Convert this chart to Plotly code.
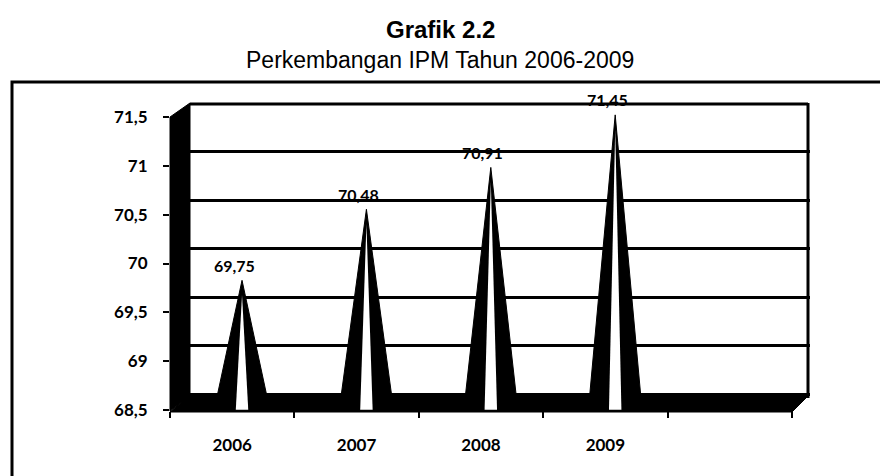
import plotly.graph_objects as go

# ---- data ----
years = ["2006", "2007", "2008", "2009"]
ipm = [69.75, 70.48, 70.91, 71.45]
y_min = 68.5
y_max = 71.5

# ---- layout geometry (pixels) ----
W, H = 880, 476
L, T, R, B = 170, 103, 70, 65
PW = W - L - R
PH = H - T - B

def px_x(p):  # pixel -> paper x
    return (p - L) / PW

def px_y(p):  # pixel -> paper y
    return 1 - (p - T) / PH

fig = go.Figure()

# anchor trace for the main (front) axes
fig.add_trace(go.Scatter(x=list(range(len(years))), y=ipm, xaxis="x", yaxis="y",
                         mode="markers", marker=dict(opacity=0), showlegend=False,
                         hoverinfo="skip"))
# anchor trace for back-wall grid axis
fig.add_trace(go.Scatter(x=[0], y=[y_min], xaxis="x2", yaxis="y2",
                         mode="markers", marker=dict(opacity=0), showlegend=False,
                         hoverinfo="skip"))

# cones (mid-depth axes)
cone_half = 0.21
for i, v in enumerate(ipm):
    fig.add_trace(go.Scatter(
        x=[i - cone_half, i, i + cone_half, i - cone_half],
        y=[y_min, v, y_min, y_min],
        xaxis="x3", yaxis="y3", mode="lines", fill="toself",
        fillcolor="black", line=dict(color="black", width=1),
        showlegend=False, hoverinfo="skip"))
    fig.add_trace(go.Scatter(
        x=[i - 0.05, i, i + 0.05, i - 0.05],
        y=[y_min - 0.08, v - 0.15, y_min - 0.08, y_min - 0.08],
        xaxis="x3", yaxis="y3", mode="lines", fill="toself",
        fillcolor="white", line=dict(color="white", width=0),
        showlegend=False, hoverinfo="skip"))

for i, v in enumerate(ipm):
    fig.add_annotation(x=i, y=v, xref="x3", yref="y3",
                       text=f"{v:.2f}".replace(".", ","), showarrow=False,
                       xshift=-8, yshift=15,
                       font=dict(family="Lato", size=16, color="black", weight="bold"))

shapes = []
# left wall
shapes.append(dict(type="path", xref="paper", yref="paper", layer="below",
                   path=f"M {px_x(170)},{px_y(117)} L {px_x(190)},{px_y(103)} L {px_x(190)},{px_y(396)} L {px_x(170)},{px_y(411)} Z",
                   fillcolor="black", line=dict(color="black", width=1)))
# floor
shapes.append(dict(type="path", xref="paper", yref="paper", layer="below",
                   path=f"M {px_x(170)},{px_y(412)} L {px_x(190)},{px_y(395)} L {px_x(809)},{px_y(395)} L {px_x(792)},{px_y(412)} Z",
                   fillcolor="black", line=dict(color="black", width=1)))
# back wall right edge and top edge
shapes.append(dict(type="line", xref="paper", yref="paper", layer="below",
                   x0=px_x(808), x1=px_x(808), y0=px_y(103), y1=px_y(398),
                   line=dict(color="black", width=3)))
shapes.append(dict(type="line", xref="paper", yref="paper", layer="below",
                   x0=px_x(190), x1=px_x(808), y0=px_y(104), y1=px_y(104),
                   line=dict(color="black", width=3)))
# outer frame
shapes.append(dict(type="rect", xref="paper", yref="paper",
                   x0=px_x(12), x1=px_x(900), y0=px_y(82), y1=px_y(500),
                   line=dict(color="black", width=3), fillcolor="rgba(0,0,0,0)"))

fig.add_annotation(text="<b>Grafik 2.2</b>", xref="paper", yref="paper",
                   x=px_x(440), y=px_y(29), xanchor="center", yanchor="middle",
                   showarrow=False,
                   font=dict(family="Liberation Sans", size=24, color="black"))
fig.add_annotation(text="Perkembangan IPM Tahun 2006-2009", xref="paper", yref="paper",
                   x=px_x(440), y=px_y(60), xanchor="center", yanchor="middle",
                   showarrow=False,
                   font=dict(family="Liberation Sans", size=23, color="black"))

tickfont = dict(family="Lato", size=17, color="black", weight="bold")

fig.update_layout(
    width=W, height=H,
    margin=dict(l=L, r=R, t=T, b=B),
    paper_bgcolor="white", plot_bgcolor="rgba(0,0,0,0)",
    separators=",.",
    shapes=shapes,
    xaxis=dict(range=[-0.5, 4.645], tickmode="array",
               tickvals=list(range(len(years))), ticktext=years,
               ticks="", showgrid=False, zeroline=False, showline=False,
               tickfont=tickfont, ticklabelstandoff=22,
               minor=dict(ticks="outside", tick0=-0.5, dtick=1, ticklen=6,
                          tickwidth=2, tickcolor="black", showgrid=False)),
    yaxis=dict(range=[68.49, 71.643], tick0=68.5, dtick=0.5,
               ticks="outside", ticklen=6, tickwidth=2, tickcolor="black",
               showgrid=False, zeroline=False, showline=False,
               tickfont=tickfont, ticklabelstandoff=12),
    xaxis2=dict(overlaying="x", range=[-0.5, 4.645], visible=False),
    yaxis2=dict(overlaying="y", range=[68.325, 71.5], tick0=68.5, dtick=0.5,
                showgrid=True, gridcolor="black", gridwidth=3,
                showticklabels=False, ticks="", zeroline=False, showline=False),
    xaxis3=dict(overlaying="x", range=[-0.579, 4.566], visible=False),
    yaxis3=dict(overlaying="y", range=[68.4075, 71.572], visible=False),
)

fig.write_html("out.html", config={"displayModeBar": False},
               post_script="document.body.style.margin='0';")
